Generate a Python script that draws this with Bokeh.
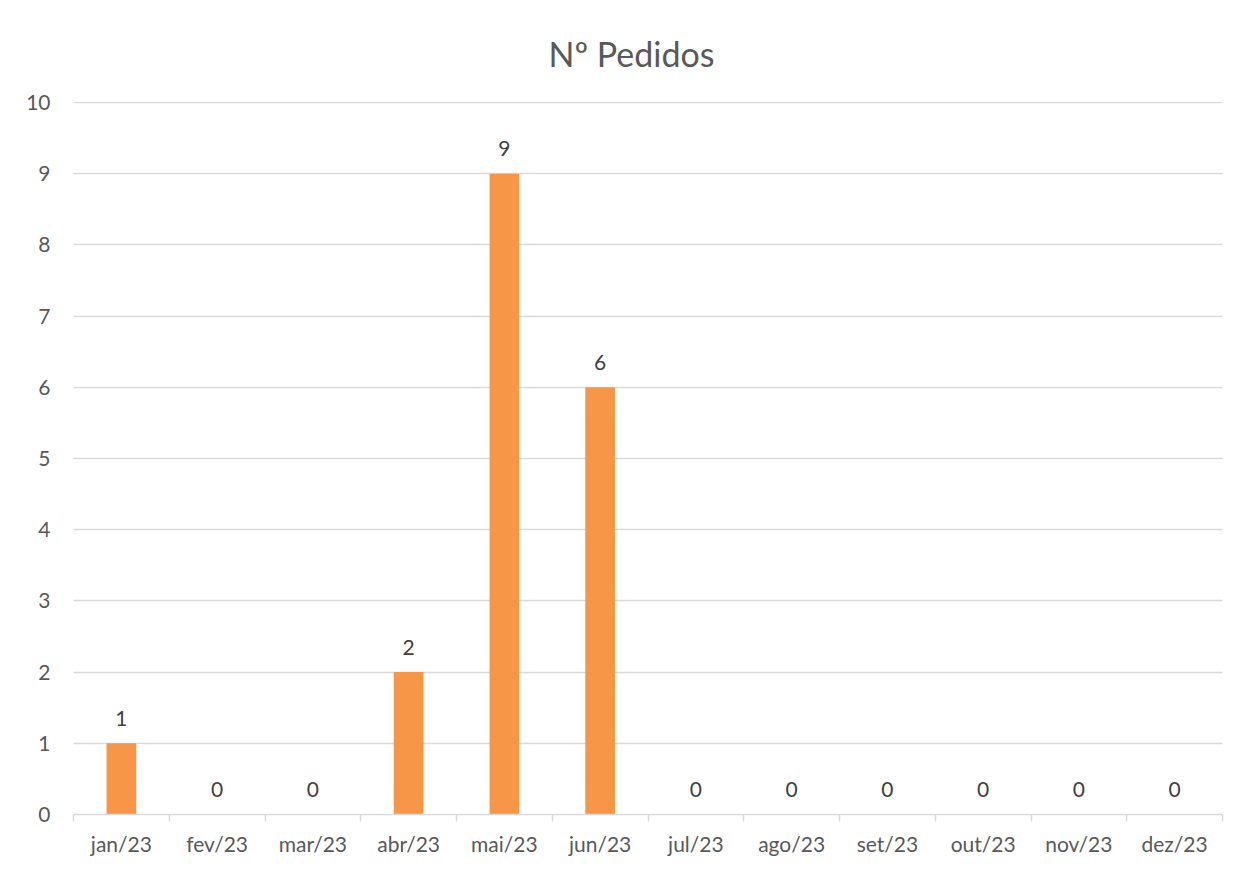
import numpy as np
from bokeh.plotting import figure
from bokeh.models import ColumnDataSource, LinearAxis, FixedTicker, Range1d
from bokeh.core.properties import value
from bokeh.embed import file_html
from bokeh.resources import INLINE

months = ["jan/23", "fev/23", "mar/23", "abr/23", "mai/23", "jun/23",
          "jul/23", "ago/23", "set/23", "out/23", "nov/23", "dez/23"]
pedidos = [1, 0, 0, 2, 9, 6, 0, 0, 0, 0, 0, 0]
y_ticks = [0, 1, 2, 3, 4, 5, 6, 7, 8, 9, 10]

FONT = "Lato"
TXT = "#595959"
GRID = "#d9d9d9"
BAR = "#f79646"

n = len(months)
centers = [i + 0.5 for i in range(n)]
bounds = list(range(n + 1))

src = ColumnDataSource(dict(x=centers, top=pedidos, lbl=[str(v) for v in pedidos]))

p = figure(width=1250, height=869, output_backend="svg", toolbar_location=None,
           x_range=Range1d(0, n), y_range=Range1d(0, 10.015),
           x_axis_location=None, y_axis_location=None,
           min_border_left=73, min_border_right=28, min_border_top=101, min_border_bottom=55)
p.outline_line_color = None
p.background_fill_color = "white"
p.border_fill_color = "white"

p.title.text = "Nº Pedidos"
p.title.align = "left"
p.title.offset = 475
p.title.text_font = FONT
p.title.text_font_size = "34px"
p.title.text_font_style = "normal"
p.title.text_color = TXT
p.title.standoff = 56

# y axis: labels only
yax = LinearAxis(ticker=FixedTicker(ticks=y_ticks))
yax.axis_line_color = None
yax.major_tick_line_color = None
yax.minor_tick_line_color = None
yax.major_label_text_font = FONT
yax.major_label_text_font_size = "21px"
yax.major_label_text_color = TXT
yax.major_label_standoff = 17
p.add_layout(yax, "left")

# x axis line with boundary ticks
xax1 = LinearAxis(ticker=FixedTicker(ticks=bounds))
xax1.axis_line_color = GRID
xax1.axis_line_width = 1.5
xax1.major_tick_line_color = GRID
xax1.major_tick_line_width = 1.5
xax1.major_tick_in = 0
xax1.major_tick_out = 7
xax1.minor_tick_line_color = None
xax1.major_label_text_font_size = "0px"
xax1.major_label_standoff = 0
xax1.major_label_overrides = {b: "" for b in bounds}
p.add_layout(xax1, "below")

# x axis labels at category centers
xax2 = LinearAxis(ticker=FixedTicker(ticks=centers))
xax2.axis_line_color = None
xax2.major_tick_line_color = None
xax2.minor_tick_line_color = None
xax2.major_label_overrides = {c: m for c, m in zip(centers, months)}
xax2.major_label_text_font = FONT
xax2.major_label_text_font_size = "21px"
xax2.major_label_text_color = TXT
xax2.major_label_standoff = 3
p.add_layout(xax2, "below")

p.xgrid.visible = False
p.ygrid.ticker = FixedTicker(ticks=y_ticks)
p.ygrid.grid_line_color = GRID
p.ygrid.grid_line_width = 1.5

p.vbar(x="x", top="top", width=0.31, bottom=0, source=src,
       fill_color=BAR, line_color=None)

p.text(x="x", y="top", text="lbl", source=src, text_align="center",
       text_baseline="middle", y_offset=-25, text_font=value(FONT),
       text_font_size="21px", text_color="#404040")

open("out.html", "w").write(file_html(p, INLINE))
